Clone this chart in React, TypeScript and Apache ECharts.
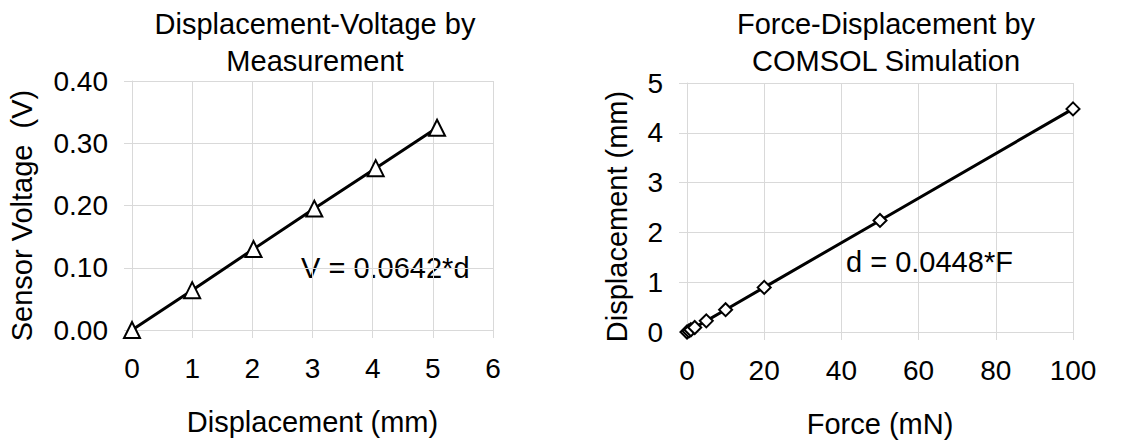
import React, { useEffect, useRef } from "react";
import * as echarts from "echarts";

const dispMeas = [0, 1, 2.02, 3.03, 4.05, 5.07];
const voltMeas = [0, 0.064, 0.13, 0.195, 0.26, 0.325];
const forceSim = [0, 0.5, 1, 2, 5, 10, 20, 50, 100];
const dispSim = [0, 0.022, 0.045, 0.09, 0.224, 0.448, 0.896, 2.24, 4.48];

const titleLeft = "Displacement-Voltage by\nMeasurement";
const titleRight = "Force-Displacement by\nCOMSOL Simulation";
const eqLeft = "V = 0.0642*d";
const eqRight = "d = 0.0448*F";

const FONT = "'Liberation Sans', Arial, sans-serif";
const GRID_COLOR = "#d9d9d9";
const TICK = 28;
const NAME = 29;

function axisCommon() {
  return {
    axisLine: { show: true, lineStyle: { color: GRID_COLOR, width: 1 } },
    axisTick: { show: true, length: 8, lineStyle: { color: GRID_COLOR, width: 1 } },
    splitLine: { show: true, lineStyle: { color: GRID_COLOR, width: 1 } },
    axisLabel: { color: "#000", fontSize: TICK, fontFamily: FONT, margin: 12 },
    nameTextStyle: { color: "#000", fontSize: NAME, fontFamily: FONT },
    nameLocation: "middle" as const,
  };
}

export default function App() {
  const ref = useRef<HTMLDivElement>(null);
  useEffect(() => {
    document.body.style.margin = "0";
    const chart = echarts.init(ref.current!, null, { renderer: "svg" });
    const c = axisCommon();
    const titleStyle = { fontSize: 29, fontWeight: "normal", color: "#000", fontFamily: FONT, lineHeight: 37 };
    chart.setOption({
      animation: false,
      backgroundColor: "#fff",
      title: [
        { text: titleLeft, left: 310, top: 0, textAlign: "center", textStyle: titleStyle },
        { text: titleRight, left: 881, top: 0, textAlign: "center", textStyle: titleStyle },
      ],
      grid: [
        { left: 132, right: 642, top: 81, bottom: 114 },
        { left: 687, right: 62, top: 83, bottom: 112 },
      ],
      xAxis: [
        {
          ...c,
          type: "value",
          gridIndex: 0,
          min: 0,
          max: 6,
          interval: 1,
          name: "Displacement (mm)",
          nameGap: 77,
          axisLabel: { ...c.axisLabel, margin: 24 },
        },
        {
          ...c,
          type: "value",
          gridIndex: 1,
          min: 0,
          max: 100,
          interval: 20,
          name: "Force (mN)",
          nameGap: 77,
          axisLabel: { ...c.axisLabel, margin: 24 },
        },
      ],
      yAxis: [
        {
          ...c,
          type: "value",
          gridIndex: 0,
          min: 0,
          max: 0.4,
          interval: 0.1,
          name: "Sensor Voltage  (V)",
          nameGap: 96,
          nameTextStyle: { ...c.nameTextStyle, padding: [0, 20, 0, 0] },
          axisLabel: { ...c.axisLabel, margin: 24, formatter: (v: number) => v.toFixed(2) },
        },
        {
          ...c,
          type: "value",
          gridIndex: 1,
          min: 0,
          max: 5,
          interval: 1,
          name: "Displacement (mm)",
          nameGap: 56,
          nameTextStyle: { ...c.nameTextStyle, padding: [0, 18, 0, 0] },
          axisLabel: { ...c.axisLabel, margin: 24 },
        },
      ],
      series: [
        {
          type: "line",
          xAxisIndex: 0,
          yAxisIndex: 0,
          data: dispMeas.map((d, i) => [d, voltMeas[i]]),
          lineStyle: { color: "#000", width: 3 },
          symbol: "triangle",
          symbolSize: 16,
          itemStyle: { color: "#fff", borderColor: "#000", borderWidth: 2 },
          z: 3,
        },
        {
          type: "line",
          xAxisIndex: 1,
          yAxisIndex: 1,
          data: forceSim.map((f, i) => [f, dispSim[i]]),
          lineStyle: { color: "#000", width: 3 },
          symbol: "diamond",
          symbolSize: 13,
          itemStyle: { color: "#fff", borderColor: "#000", borderWidth: 2 },
          z: 3,
        },
      ],
      graphic: [
        {
          type: "text",
          left: 301,
          top: 253,
          style: { text: eqLeft, fontSize: 29, fontFamily: FONT, fill: "#000" },
        },
        {
          type: "text",
          left: 846,
          top: 247,
          style: { text: eqRight, fontSize: 29, fontFamily: FONT, fill: "#000" },
        },
      ],
    });
    return () => chart.dispose();
  }, []);
  return <div ref={ref} style={{ width: 1135, height: 444 }} />;
}
